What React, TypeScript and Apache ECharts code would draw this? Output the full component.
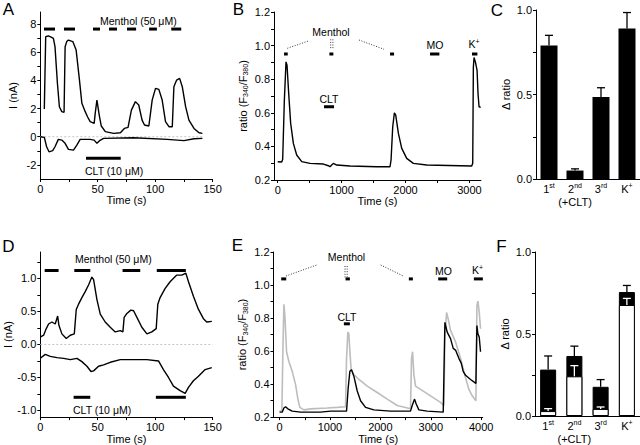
import React, { useEffect, useRef } from "react";
import * as echarts from "echarts";

const FONT = '"Liberation Sans", Arial, Helvetica, sans-serif';

// ---------- Panel A (whole-cell current, nA) ----------
const aUpper: [number, number][] = [
  [3.5, 1.96], [4.7, 7.1], [7.0, 7.15], [9.9, 7.05], [11.4, 6.98], [12.8, 6.39], [14.9, 3.79],
  [16.6, 2.13], [18.7, 1.78], [20.7, 1.73], [21.6, 6.39], [23.0, 6.75], [24.5, 6.86], [28.3, 6.75],
  [31.2, 6.15], [34.1, 4.02], [36.2, 2.37], [39.1, 1.78], [41.1, 1.42], [43.4, 1.07], [46.9, 0.95],
  [47.8, 1.66], [49.3, 2.6], [51.3, 1.54], [53.1, 0.76], [56.6, 0.36], [63.8, 0.24], [69.7, 0.28],
  [73.2, 0.59], [76.4, 0.66], [79.3, 1.89], [82.8, 2.49], [85.7, 2.25], [88.6, 1.18], [90.7, 0.83],
  [94.5, 0.76], [97.4, 2.6], [100.3, 3.43], [103.2, 3.36], [106.1, 2.6], [109.0, 1.07], [112.0, 0.71],
  [114.9, 0.71], [116.3, 3.55], [118.7, 4.02], [121.3, 4.14], [123.6, 3.55], [126.5, 2.13],
  [129.4, 1.18], [133.8, 0.59], [138.2, 0.28], [141.1, 0.24],
];
const aLower: [number, number][] = [
  [0.3, 0], [3.5, -0.05], [5.5, -0.71], [7.6, -1.07], [10.8, -0.99], [12.8, -0.71], [15.7, -0.19],
  [18.7, -0.24], [21.6, -0.47], [24.5, -0.9], [28.9, -0.95], [31.8, -0.59], [34.7, -0.19],
  [43.4, -0.19], [46.9, -0.24], [49.3, -0.47], [51.6, -0.28], [55.1, -0.12], [81.3, -0.07],
  [110.5, -0.19], [125.1, -0.28], [133.8, -0.14], [141.1, -0.12],
];
const aZero: [number, number][] = [[0, 0], [142, 0]];
const aMenthol: [number, number][] = [
  [3.2, 12.8], [20.6, 30.2], [45.9, 52], [59.8, 66.8], [75.5, 83.4], [94.7, 101.5], [114, 122.7],
];
const aMentholLevel = 7.64;
const aClt: [number, number][] = [[39.8, 70]];
const aCltLevel = -1.53;
const aXLabels = [0, 50, 100, 150];
const aXTicks = [0, 25, 50, 75, 100, 125, 150];
const aYLabels = [-2, 0, 2, 4, 6, 8];
const aYTicks = [-2, -1, 0, 1, 2, 3, 4, 5, 6, 7, 8];

// ---------- Panel B (ratio F340/F380) ----------
const bTrace: [number, number][] = [
  [0, 0.309], [63, 0.307], [78, 0.323], [104, 0.675], [130, 0.903], [146, 0.883], [172, 0.715],
  [203, 0.537], [245, 0.418], [297, 0.349], [376, 0.309], [506, 0.299], [715, 0.295], [793, 0.285],
  [819, 0.279], [845, 0.289], [871, 0.299], [923, 0.289], [1132, 0.283], [1550, 0.279],
  [1758, 0.279], [1774, 0.319], [1800, 0.517], [1826, 0.6], [1847, 0.586], [1889, 0.477],
  [1941, 0.388], [2019, 0.329], [2123, 0.299], [2332, 0.289], [2854, 0.285], [3036, 0.283],
  [3052, 0.299], [3062, 0.873], [3073, 0.929], [3094, 0.903], [3109, 0.873], [3120, 0.853],
  [3135, 0.715], [3151, 0.636], [3177, 0.632],
];
const bStim: [number, number][] = [[99, 157], [809, 871], [1758, 1821], [2384, 2530], [3041, 3125]];
const bStimLevel = 0.95;
const bClt: [number, number][] = [[725, 882]];
const bCltLevel = 0.636;
const bXLabels = [0, 1000, 2000, 3000];
const bXTicks = [0, 500, 1000, 1500, 2000, 2500, 3000];
const ratioYLabels = [0.2, 0.4, 0.6, 0.8, 1.0, 1.2];
const ratioYTicks = [0.2, 0.3, 0.4, 0.5, 0.6, 0.7, 0.8, 0.9, 1.0, 1.1, 1.2];

// ---------- Panel C (bar summary) ----------
const barCategories = ["1st", "2nd (+CLT)", "3rd", "K+"];
const catMain = ["1", "2", "3", "K"];
const catSup = ["st", "nd", "rd", "+"];
const catSub = ["", "(+CLT)", "", ""];
const cMean = [0.79, 0.05, 0.485, 0.89];
const cErr = [0.85, 0.06, 0.54, 0.985];
const deltaYTicks = [0, 0.25, 0.5, 0.75, 1.0];

// ---------- Panel D (whole-cell current, nA) ----------
const dUpper: [number, number][] = [
  [0, 0.11], [2.9, 0.14], [5.2, 0.24], [7.2, 0.31], [10.1, 0.34], [13.0, 0.31], [15.1, 0.43],
  [16.2, 0.29], [18.8, 0.16], [22.6, 0.09], [26.1, 0.14], [29.6, 0.16], [31.3, 0.53], [33.3, 0.61],
  [36.2, 0.71], [39.1, 0.8], [42.0, 0.9], [44.9, 1.02], [46.4, 0.98], [49.3, 0.68], [52.2, 0.46],
  [56.5, 0.34], [60.9, 0.26], [65.2, 0.19], [69.6, 0.21], [71.9, 0.19], [73.0, 0.41], [75.4, 0.47],
  [78.8, 0.52], [81.2, 0.51], [84.1, 0.41], [88.4, 0.26], [92.8, 0.16], [97.1, 0.19], [100.9, 0.24],
  [102.3, 0.61], [104.3, 0.71], [108.7, 0.85], [113.0, 0.95], [118.8, 1.05], [123.2, 1.05],
  [126.7, 1.08], [129.0, 0.95], [133.3, 0.73], [137.7, 0.53], [142.0, 0.39], [144.9, 0.34],
  [149.3, 0.35],
];
const dLower: [number, number][] = [
  [0, -0.21], [4.3, -0.15], [8.7, -0.18], [14.5, -0.2], [20.3, -0.21], [26.1, -0.23], [31.9, -0.21],
  [36.2, -0.26], [40.6, -0.33], [44.1, -0.41], [46.4, -0.4], [50.7, -0.33], [55.1, -0.31],
  [60.9, -0.27], [69.6, -0.23], [81.2, -0.23], [92.8, -0.23], [102.9, -0.25], [107.2, -0.38],
  [111.6, -0.5], [115.9, -0.63], [121.7, -0.7], [126.1, -0.74], [129.0, -0.65], [133.3, -0.55],
  [137.7, -0.48], [143.5, -0.38], [149.3, -0.35],
];
const dZero: [number, number][] = [[0, 0], [150, 0]];
const dMenthol: [number, number][] = [[3.8, 15.9], [29.6, 43.5], [71.6, 87], [101.4, 126.7]];
const dMentholLevel = 1.12;
const dLowerBars: [number, number][] = [[29, 43.5], [100.6, 126.7]];
const dLowerLevel = -0.8;
const dYLabels = [-1.0, -0.5, 0.0, 0.5, 1.0];
const dYTicks = [-1.0, -0.75, -0.5, -0.25, 0, 0.25, 0.5, 0.75, 1.0, 1.25];

// ---------- Panel E (ratio, two cells) ----------
const eBlack: [number, number][] = [
  [0, 0.23], [53, 0.23], [86, 0.255], [119, 0.263], [165, 0.25], [251, 0.236], [417, 0.23],
  [813, 0.23], [1012, 0.236], [1329, 0.236], [1362, 0.378], [1395, 0.477], [1428, 0.487],
  [1474, 0.448], [1541, 0.358], [1607, 0.299], [1706, 0.259], [1871, 0.244], [2202, 0.236],
  [2598, 0.236], [2632, 0.27], [2678, 0.309], [2711, 0.279], [2764, 0.244], [2929, 0.236],
  [3247, 0.23], [3280, 0.774], [3326, 0.715], [3392, 0.675], [3445, 0.616], [3491, 0.606],
  [3557, 0.556], [3604, 0.527], [3643, 0.477], [3690, 0.453], [3789, 0.428], [3895, 0.404],
  [3915, 0.754], [3935, 0.705], [3961, 0.685], [3987, 0.596],
];
const eGray: [number, number][] = [
  [0, 0.236], [46, 0.24], [66, 0.596], [86, 0.883], [106, 0.814], [139, 0.596], [185, 0.537],
  [251, 0.477], [317, 0.398], [364, 0.309], [403, 0.259], [483, 0.244], [615, 0.25], [946, 0.255],
  [1144, 0.259], [1309, 0.263], [1329, 0.556], [1355, 0.715], [1375, 0.705], [1395, 0.596],
  [1421, 0.487], [1474, 0.457], [1574, 0.428], [1739, 0.388], [1937, 0.349], [2136, 0.309],
  [2334, 0.27], [2598, 0.25], [2618, 0.556], [2638, 0.596], [2665, 0.457], [2698, 0.388],
  [2797, 0.368], [2995, 0.329], [3194, 0.289], [3260, 0.27], [3280, 0.675], [3313, 0.834],
  [3346, 0.794], [3392, 0.725], [3491, 0.656], [3590, 0.556], [3690, 0.438], [3756, 0.368],
  [3822, 0.329], [3895, 0.299], [3915, 0.873], [3935, 0.903], [3961, 0.834], [3987, 0.735],
];
const eStim: [number, number][] = [[33, 132], [1309, 1395], [2565, 2645], [3147, 3326], [3855, 4033]];
const eStimLevel = 1.037;
const eClt: [number, number][] = [[1276, 1395]];
const eCltLevel = 0.765;
const eXLabels = [0, 1000, 2000, 3000, 4000];
const eXTicks = [0, 500, 1000, 1500, 2000, 2500, 3000, 3500, 4000];

// ---------- Panel F (stacked-look bars) ----------
const fTotal = [0.283, 0.366, 0.178, 0.756];
const fTotalErr = [0.366, 0.426, 0.222, 0.796];
const fInner = [0.03, 0.242, 0.043, 0.677];
const fInnerErr = [0.045, 0.307, 0.055, 0.717];

// ---------- helpers ----------
const black = "#000";
const tStyle = { fontSize: 11, fontFamily: FONT, color: black };

function valueAxis(o: {
  grid: number; min: number; max: number; labels: number[]; ticks: number[];
  fmt: (v: number) => string; name?: string; nameGap?: number; rich?: any;
}) {
  return {
    type: "value",
    gridIndex: o.grid,
    min: o.min,
    max: o.max,
    name: o.name || "",
    nameLocation: "middle",
    nameGap: o.nameGap ?? 14,
    nameTextStyle: { ...tStyle, rich: o.rich },
    axisLine: { show: true, onZero: false, lineStyle: { color: black, width: 1 } },
    axisTick: { show: true, length: 3, customValues: o.ticks, lineStyle: { color: black, width: 1 } },
    axisLabel: { ...tStyle, margin: 4, customValues: o.labels, formatter: (v: number) => o.fmt(v) },
    splitLine: { show: false },
  };
}

function catAxis(grid: number) {
  return {
    type: "category",
    gridIndex: grid,
    data: barCategories,
    boundaryGap: true,
    axisLine: { show: true, lineStyle: { color: black, width: 1 } },
    axisTick: { show: false },
    axisLabel: {
      ...tStyle,
      interval: 0,
      margin: 3,
      lineHeight: 13,
      formatter: (_v: string, idx: number) =>
        `{n|${catMain[idx]}}{s|${catSup[idx]}}` + (catSub[idx] ? `\n{n|${catSub[idx]}}` : ""),
      rich: {
        n: { fontSize: 11, fontFamily: FONT, color: black, lineHeight: 13 },
        s: { fontSize: 7, fontFamily: FONT, color: black, verticalAlign: "top", lineHeight: 13 },
      },
    },
    splitLine: { show: false },
  };
}

function traceSeries(axis: number, data: [number, number][], color = black, width = 1.4, z = 3) {
  return {
    type: "line",
    xAxisIndex: axis,
    yAxisIndex: axis,
    data,
    symbol: "none",
    showSymbol: false,
    lineStyle: { color, width },
    z,
    silent: true,
  };
}

function zeroSeries(axis: number, data: [number, number][]) {
  return {
    type: "line",
    xAxisIndex: axis,
    yAxisIndex: axis,
    data,
    symbol: "none",
    lineStyle: { color: "#c4c4c4", width: 1, type: [2, 2] },
    z: 1,
    silent: true,
  };
}

function stimSeries(axis: number, intervals: [number, number][], level: number, width = 3) {
  return {
    type: "custom",
    xAxisIndex: axis,
    yAxisIndex: axis,
    data: intervals.map(([s, e]) => [s, e, level]),
    encode: { x: [0, 1], y: 2 },
    silent: true,
    z: 5,
    renderItem: (_p: any, api: any) => {
      const p1 = api.coord([api.value(0), api.value(2)]);
      const p2 = api.coord([api.value(1), api.value(2)]);
      return {
        type: "line",
        shape: { x1: p1[0], y1: p1[1], x2: p2[0], y2: p2[1] },
        style: { stroke: black, lineWidth: width },
      };
    },
  };
}

function errSeries(axis: number, means: number[], errs: number[], color: string) {
  return {
    type: "custom",
    xAxisIndex: axis,
    yAxisIndex: axis,
    data: means.map((m, i) => [i, m, errs[i]]),
    encode: { x: 0, y: [1, 2] },
    silent: true,
    z: 6,
    renderItem: (_p: any, api: any) => {
      const i = api.value(0);
      const a = api.coord([i, api.value(1)]);
      const b = api.coord([i, api.value(2)]);
      const hw = 4;
      return {
        type: "group",
        children: [
          { type: "line", shape: { x1: a[0], y1: a[1], x2: b[0], y2: b[1] }, style: { stroke: color, lineWidth: 1.3 } },
          { type: "line", shape: { x1: b[0] - hw, y1: b[1], x2: b[0] + hw, y2: b[1] }, style: { stroke: color, lineWidth: 1.3 } },
        ],
      };
    },
  };
}

const supRich = { sup: { fontSize: 7, fontFamily: FONT, fill: black, verticalAlign: "top", lineHeight: 13 } };

function txt(x: number, y: number, text: string, align = "center", size = 11) {
  return {
    type: "text",
    x,
    y,
    silent: true,
    style: {
      text,
      fontSize: size,
      fontFamily: FONT,
      fill: black,
      align,
      verticalAlign: "middle",
      lineHeight: size > 14 ? size : 13,
      rich: supRich,
    },
  };
}

function dotted(x1: number, y1: number, x2: number, y2: number) {
  return {
    type: "line",
    silent: true,
    shape: { x1, y1, x2, y2 },
    style: { stroke: black, lineWidth: 0.8, lineDash: [1, 1.6] },
  };
}

const f1 = (v: number) => v.toFixed(1);
const f0 = (v: number) => String(v);

export default function App() {
  const ref = useRef<HTMLDivElement>(null);

  useEffect(() => {
    document.body.style.margin = "0";
    if (!ref.current) return;
    const chart = echarts.init(ref.current, undefined, { renderer: "svg" });

    const ratioName = "ratio (F{sub|340}/F{sub|380})";
    const subRich = { sub: { fontSize: 7, fontFamily: FONT, color: black, verticalAlign: "bottom", lineHeight: 13 } };

    const option: any = {
      animation: false,
      backgroundColor: "#fff",
      grid: [
        { left: 40.3, top: 12, width: 172.3, height: 167 }, // A
        { left: 274, top: 12, width: 206.9, height: 168 }, // B
        { left: 536, top: 10, width: 104, height: 169 }, // C
        { left: 40.3, top: 252, width: 172.3, height: 167 }, // D
        { left: 273.5, top: 252, width: 209.2, height: 167.5 }, // E
        { left: 535, top: 252, width: 105, height: 168 }, // F
      ],
      xAxis: [
        valueAxis({ grid: 0, min: 0, max: 150, labels: aXLabels, ticks: aXTicks, fmt: f0, name: "Time (s)" }),
        valueAxis({ grid: 1, min: -58, max: 3180, labels: bXLabels, ticks: bXTicks, fmt: f0, name: "Time (s)" }),
        catAxis(2),
        valueAxis({ grid: 3, min: 0, max: 150, labels: aXLabels, ticks: aXTicks, fmt: f0, name: "Time (s)", nameGap: 13 }),
        valueAxis({ grid: 4, min: -120, max: 4030, labels: eXLabels, ticks: eXTicks, fmt: f0, name: "Time (s)", nameGap: 13 }),
        catAxis(5),
      ],
      yAxis: [
        valueAxis({ grid: 0, min: -3, max: 8.85, labels: aYLabels, ticks: aYTicks, fmt: f0, name: "I (nA)", nameGap: 22 }),
        valueAxis({ grid: 1, min: 0.2, max: 1.2, labels: ratioYLabels, ticks: ratioYTicks, fmt: f1, name: ratioName, nameGap: 25, rich: subRich }),
        valueAxis({ grid: 2, min: 0, max: 1.0, labels: [0, 0.5, 1.0], ticks: deltaYTicks, fmt: f1, name: "Δ ratio", nameGap: 25 }),
        valueAxis({ grid: 3, min: -1.1, max: 1.4, labels: dYLabels, ticks: dYTicks, fmt: f1, name: "I (nA)", nameGap: 27 }),
        valueAxis({ grid: 4, min: 0.2, max: 1.2, labels: ratioYLabels, ticks: ratioYTicks, fmt: f1, name: ratioName, nameGap: 25, rich: subRich }),
        valueAxis({ grid: 5, min: 0, max: 1.0, labels: [0, 0.5, 1.0], ticks: deltaYTicks, fmt: f1, name: "Δ ratio", nameGap: 25 }),
      ],
      series: [
        // A
        zeroSeries(0, aZero),
        traceSeries(0, aUpper),
        traceSeries(0, aLower),
        stimSeries(0, aMenthol, aMentholLevel),
        stimSeries(0, aClt, aCltLevel),
        // B
        traceSeries(1, bTrace),
        stimSeries(1, bStim, bStimLevel),
        stimSeries(1, bClt, bCltLevel),
        // C
        {
          type: "bar", xAxisIndex: 2, yAxisIndex: 2, data: cMean, barWidth: 17, silent: true,
          itemStyle: { color: black },
        },
        errSeries(2, cMean, cErr, black),
        // D
        zeroSeries(3, dZero),
        traceSeries(3, dUpper),
        traceSeries(3, dLower),
        stimSeries(3, dMenthol, dMentholLevel),
        stimSeries(3, dLowerBars, dLowerLevel),
        // E
        traceSeries(4, eGray, "#bdbdbd", 1.6, 2),
        traceSeries(4, eBlack, black, 1.4, 3),
        stimSeries(4, eStim, eStimLevel),
        stimSeries(4, eClt, eCltLevel),
        // F
        {
          type: "bar", xAxisIndex: 5, yAxisIndex: 5, data: fTotal, barWidth: 16, barGap: "-100%", silent: true,
          itemStyle: { color: black, borderColor: black, borderWidth: 1 },
        },
        {
          type: "bar", xAxisIndex: 5, yAxisIndex: 5, data: fInner, barWidth: 16, barGap: "-100%", silent: true,
          itemStyle: { color: "#fff", borderColor: black, borderWidth: 1 },
        },
        errSeries(5, fTotal, fTotalErr, black),
        errSeries(5, fInner, fInnerErr, "#fff"),
      ],
      graphic: [
        // panel letters
        txt(8.5, 9.5, "A", "center", 17),
        txt(238.5, 9.5, "B", "center", 17),
        txt(497, 10, "C", "center", 17),
        txt(8.5, 246, "D", "center", 17),
        txt(237.5, 245.5, "E", "center", 17),
        txt(501.5, 246.5, "F", "center", 17),
        // A annotations
        txt(100, 20.5, "Menthol (50 μM)", "left", 10.5),
        txt(85, 171, "CLT (10 μM)", "left", 10.5),
        // B annotations
        txt(331, 32, "Menthol", "center", 10.5),
        txt(435, 45, "MO", "center", 10.5),
        txt(474, 44, "K{sup|+}", "center", 10.5),
        txt(329, 99, "CLT", "center", 10.5),
        dotted(287.3, 48.3, 309.3, 40.7),
        dotted(330.7, 39.3, 330.7, 48.3),
        dotted(332.9, 39.3, 332.9, 48.3),
        dotted(359, 40, 384, 49.3),
        // D annotations
        txt(75, 259, "Menthol (50 μM)", "left", 10.5),
        txt(73, 410, "CLT (10 μM)", "left", 10.5),
        // E annotations
        txt(346.5, 256.5, "Menthol", "center", 10.5),
        txt(443.5, 271, "MO", "center", 10.5),
        txt(477.5, 270, "K{sup|+}", "center", 10.5),
        txt(347, 317, "CLT", "center", 10.5),
        dotted(286, 276, 316.7, 265),
        dotted(345, 266, 345, 277.3),
        dotted(347.2, 266, 347.2, 277.3),
        dotted(380.7, 265, 403.3, 276),
      ],
    };

    chart.setOption(option);
    return () => chart.dispose();
  }, []);

  return <div ref={ref} style={{ width: 640, height: 445 }} />;
}
